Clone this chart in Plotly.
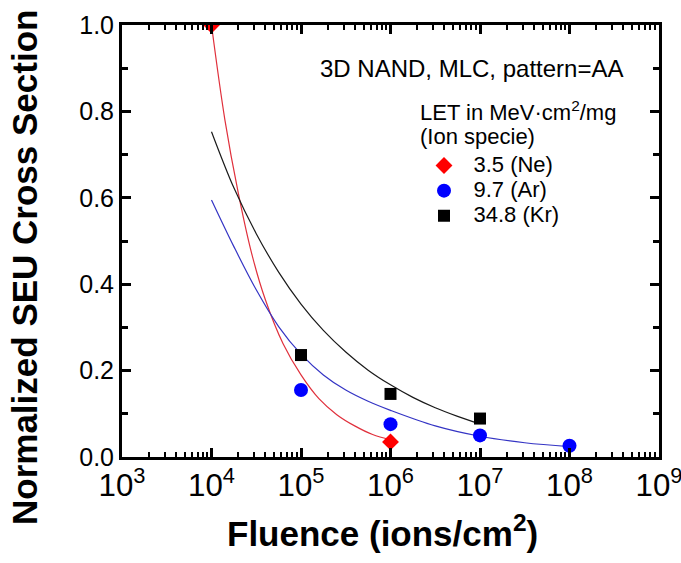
import plotly.graph_objects as go

# Measured data points: fluence (ions/cm^2) vs normalized SEU cross section
ne_fluence = [1e4, 1e6]
ne_sigma = [1.0, 0.035]

ar_fluence = [1e5, 1e6, 1e7, 1e8]
ar_sigma = [0.155, 0.076, 0.050, 0.026]

kr_fluence = [1e5, 1e6, 1e7]
kr_sigma = [0.236, 0.146, 0.089]

# Fitted trend curves (log10 fluence, cross section)
ne_fit_logf = [4.0, 4.15, 4.3, 4.45, 4.6, 4.8, 5.0, 5.2, 5.4, 5.6, 5.8, 6.0]
ne_fit_sigma = [1.0, 0.78, 0.61, 0.47, 0.365, 0.262, 0.19, 0.135, 0.098, 0.072, 0.052, 0.040]

ar_fit_logf = [4.0, 4.25, 4.5, 4.75, 5.0, 5.25, 5.5, 5.75, 6.0, 6.5, 7.0, 7.5, 8.0]
ar_fit_sigma = [0.595, 0.487, 0.387, 0.302, 0.238, 0.19, 0.155, 0.129, 0.108, 0.072, 0.048, 0.033, 0.024]

kr_fit_logf = [4.0, 4.25, 4.5, 4.75, 5.0, 5.25, 5.5, 5.75, 6.0, 6.25, 6.5, 6.75, 6.96]
kr_fit_sigma = [0.753, 0.623, 0.517, 0.428, 0.354, 0.293, 0.243, 0.201, 0.167, 0.138, 0.114, 0.094, 0.079]

legend_labels = ["3.5 (Ne)", "9.7 (Ar)", "34.8 (Kr)"]

FONT = "Liberation Sans, Arial, sans-serif"

fig = go.Figure()

def fit_trace(logf, sigma, color):
    return go.Scatter(
        x=[10 ** v for v in logf], y=sigma, mode="lines",
        line=dict(color=color, width=1.2, shape="spline", smoothing=1.0),
        showlegend=False, hoverinfo="skip",
    )

fig.add_trace(fit_trace(ne_fit_logf, ne_fit_sigma, "#e0303c"))
fig.add_trace(fit_trace(ar_fit_logf, ar_fit_sigma, "#3434c4"))
fig.add_trace(fit_trace(kr_fit_logf, kr_fit_sigma, "#1a1a1a"))

def legend_name(label):
    return '\u00a0\u00a0<span style="font-size:22px">' + label + "</span>"

fig.add_trace(go.Scatter(
    x=ne_fluence, y=ne_sigma, mode="markers", name=legend_name(legend_labels[0]),
    marker=dict(symbol="diamond", size=13, color="#ff0000"),
))
fig.add_trace(go.Scatter(
    x=ar_fluence, y=ar_sigma, mode="markers", name=legend_name(legend_labels[1]),
    marker=dict(symbol="circle", size=14, color="#0000ff"),
))
fig.add_trace(go.Scatter(
    x=kr_fluence, y=kr_sigma, mode="markers", name=legend_name(legend_labels[2]),
    marker=dict(symbol="square", size=12, color="#000000"),
))

axis_common = dict(
    showline=True, linewidth=3, linecolor="black", mirror="ticks",
    ticks="inside", ticklen=9, tickwidth=3, tickcolor="black",
    showgrid=False, zeroline=False, automargin=False,
    tickfont=dict(family=FONT, size=25, color="black"),
    ticklabeloverflow="allow",
)

fig.update_xaxes(
    type="log", range=[3, 9], dtick=1, exponentformat="power",
    minor=dict(ticks="inside", ticklen=5, tickwidth=2, tickcolor="black", dtick="D1", showgrid=False),
    **axis_common,
)
fig.update_yaxes(
    range=[0, 1.0], dtick=0.2, tickformat=".1f",
    minor=dict(ticks="inside", ticklen=6, tickwidth=2.5, tickcolor="black", dtick=0.1, showgrid=False),
    **axis_common,
)

def px_x(px):
    return (px - 122) / 537.0

def px_y(py):
    return (457 - py) / 432.0

title_font = dict(family=FONT, size=35, color="black", weight="bold")
fig.add_annotation(
    text="Fluence (ions/cm<sup>2</sup>)", xref="paper", yref="paper",
    x=px_x(382), y=px_y(531), xanchor="center", yanchor="middle", showarrow=False,
    font=title_font,
)
fig.add_annotation(
    text="Normalized SEU Cross Section", xref="paper", yref="paper",
    x=px_x(24), y=px_y(268), xanchor="center", yanchor="middle", showarrow=False,
    textangle=-90, font=title_font,
)

fig.add_annotation(
    text="3D NAND, MLC, pattern=AA", xref="paper", yref="paper",
    x=px_x(471.5), y=px_y(68), xanchor="center", yanchor="middle", showarrow=False,
    font=dict(family=FONT, size=24, color="black"),
)
fig.add_annotation(
    text="LET in MeV\u00b7cm<sup>2</sup>/mg", xref="paper", yref="paper",
    x=px_x(418), y=px_y(111), xanchor="left", yanchor="middle", showarrow=False,
    font=dict(family=FONT, size=22, color="black"),
)
fig.add_annotation(
    text="(Ion specie)", xref="paper", yref="paper",
    x=px_x(418), y=px_y(136), xanchor="left", yanchor="middle", showarrow=False,
    font=dict(family=FONT, size=22, color="black"),
)

fig.update_layout(
    width=681, height=563,
    margin=dict(l=122, r=22, t=25, b=106),
    paper_bgcolor="white", plot_bgcolor="white",
    font=dict(family=FONT, color="black"),
    legend=dict(
        x=px_x(424), y=px_y(148), xanchor="left", yanchor="top",
        bgcolor="rgba(0,0,0,0)", borderwidth=0,
        font=dict(family=FONT, size=17, color="black"),
        itemsizing="trace",
    ),
)

fig.write_html("out.html")
